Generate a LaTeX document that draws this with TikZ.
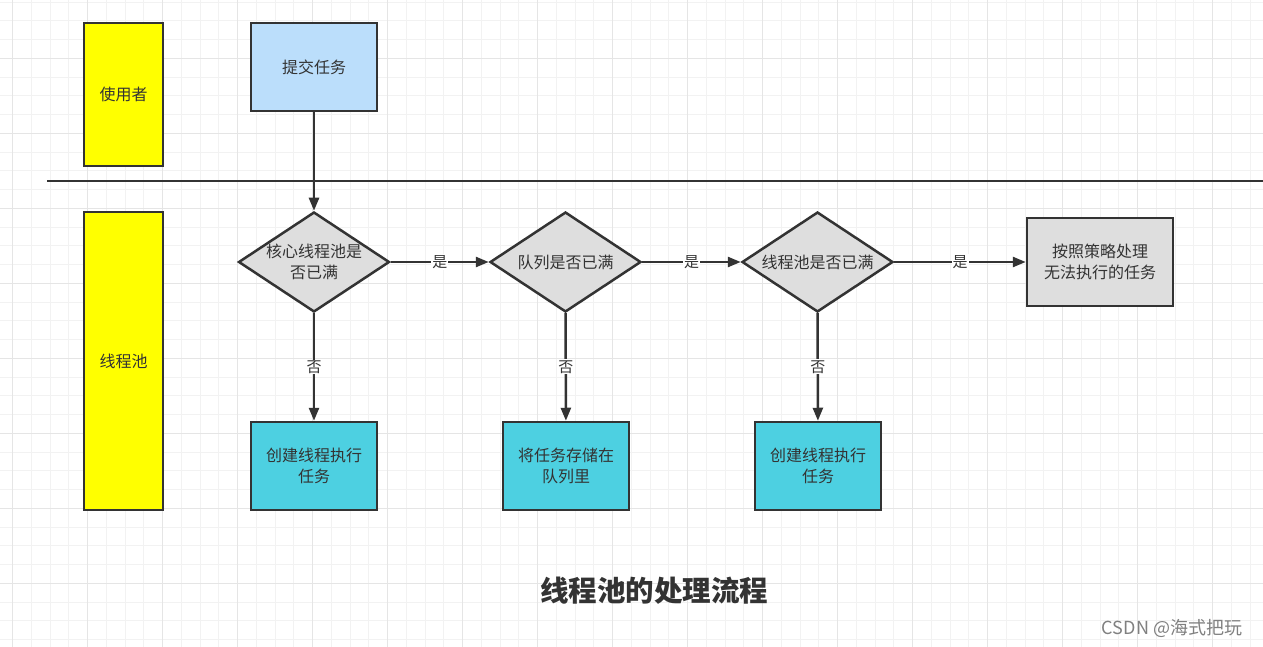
\documentclass[tikz,border=0pt]{standalone}
\usepackage{fontspec}
\setmainfont{Noto Sans CJK SC}
\usepackage{tikz}
\usetikzlibrary{arrows.meta}
\usetikzlibrary{shapes}

\definecolor{ink}{HTML}{333333}
\definecolor{userfill}{HTML}{FFFF00}
\definecolor{submitfill}{HTML}{BBDEFB}
\definecolor{decisionfill}{HTML}{DEDEDE}
\definecolor{actionfill}{HTML}{4DD0E1}
\definecolor{gridminor}{HTML}{F2F2F2}
\definecolor{gridmajor}{HTML}{E5E5E5}

\begin{document}
\begin{tikzpicture}[x=1pt, y=-1pt, text=ink,
        lane_style/.style={rectangle,draw=ink,line width=2.5pt,fill=userfill,minimum width=79pt,font=\fontsize{16}{21}\selectfont},
        box_style/.style={rectangle,draw=ink,line width=2.5pt,minimum width=126pt,minimum height=88pt,align=center,font=\fontsize{16}{21}\selectfont},
        decision_style/.style={diamond,draw=ink,line width=2.5pt,fill=decisionfill,aspect=1.5,inner sep=0pt,minimum width=151pt,minimum height=100pt,align=center,font=\fontsize{16}{21}\selectfont},
        edge_style/.style={draw=ink, line width=2.5pt, -{Triangle[length=13pt,width=10pt]}},
        label_style/.style={fill=white,inner sep=1pt,font=\fontsize{15}{16}\selectfont}]

        \fill [white] (0,0) rectangle (1263,647);
        \useasboundingbox (0,0) rectangle (1263,647);
        \foreach \gx in {0,...,67}
            \draw [gridminor, line width=1pt] ({12.5+18.75*\gx},0) -- ({12.5+18.75*\gx},647);
        \foreach \gy in {0,...,34}
            \draw [gridminor, line width=1pt] (0,{2.05+18.75*\gy}) -- (1263,{2.05+18.75*\gy});
        \foreach \gx in {0,...,16}
            \draw [gridmajor, line width=1pt] ({12.5+75*\gx},0) -- ({12.5+75*\gx},647);
        \foreach \gy in {0,...,8}
            \draw [gridmajor, line width=1pt] (0,{58.3+75*\gy}) -- (1263,{58.3+75*\gy});

        \node [lane_style, minimum height=143pt](user) at (123.5,94.5) {使用者};

        \node [lane_style, minimum height=298pt](pool) at (123.5,361) {线程池};

        \draw [ink, line width=2pt] (47,181) -- (1263,181);

        \node [box_style, fill=submitfill](submit) at (314,67) {提交任务};

        \node [decision_style](core) at (314,262) {核心线程池是\\否已满};

        \node [decision_style](queue) at (565.5,262) {队列是否已满};

        \node [decision_style](full) at (817.5,262) {线程池是否已满};

        \node [box_style, fill=decisionfill, minimum width=146pt](reject) at (1100,262) {按照策略处理\\无法执行的任务};

        \node [box_style, fill=actionfill](run1) at (314,466) {创建线程执行\\任务};

        \node [box_style, fill=actionfill](store) at (566,466) {将任务存储在\\队列里};

        \node [box_style, fill=actionfill](run2) at (818,466) {创建线程执行\\任务};

        \draw [edge_style] (submit) -- (core);

        \draw [edge_style] (core) -- node[label_style]{是} (queue);

        \draw [edge_style] (queue) -- node[label_style]{是} (full);

        \draw [edge_style] (full) -- node[label_style]{是} (reject);

        \draw [edge_style] (core) -- node[label_style]{否} (run1);

        \draw [edge_style] (queue) -- node[label_style]{否} (store);

        \draw [edge_style] (full) -- node[label_style]{否} (run2);

        \node [font=\fontsize{28.5}{32}\selectfont\bfseries](title) at (654,591) {线程池的处理流程};

        \node [text=gray, font=\fontsize{18}{20}\selectfont](mark) at (1172,628) {CSDN @海式把玩};

\end{tikzpicture}
\end{document}
